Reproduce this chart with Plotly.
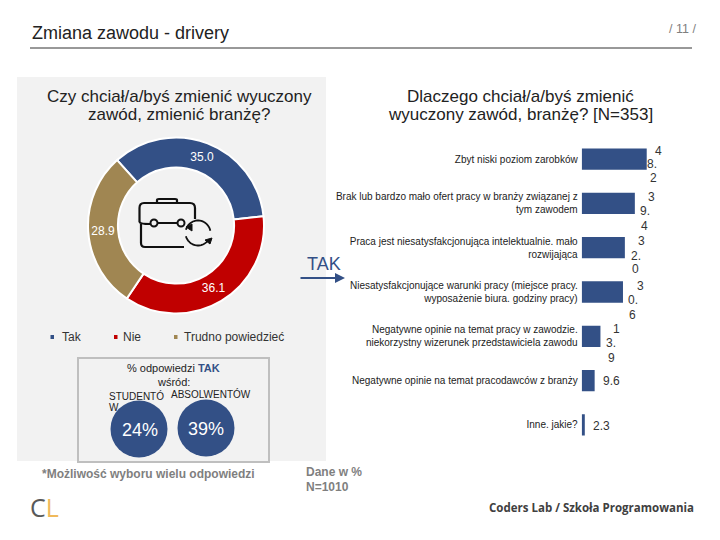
import plotly.graph_objects as go
import math

# ---- data ----
donut_labels = ["Tak", "Nie", "Trudno powiedzieć"]
donut_values = [35.0, 36.1, 28.9]
bar_categories = [
    "Zbyt niski poziom zarobków",
    "Brak lub bardzo mało ofert pracy w branży związanej z<br>tym zawodem",
    "Praca jest niesatysfakcjonująca intelektualnie. mało<br>rozwijająca",
    "Niesatysfakcjonujące warunki pracy (miejsce pracy.<br>wyposażenie biura. godziny pracy)",
    "Negatywne opinie na temat pracy w zawodzie.<br>niekorzystny wizerunek przedstawiciela zawodu",
    "Negatywne opinie na temat pracodawców z branży",
    "Inne. jakie?",
]
bar_values = [48.2, 39.4, 32.0, 30.6, 13.9, 9.6, 2.3]
bar_value_lines = [["4", "8.", "2"], ["3", "9.", "4"], ["3", "2.", "0"], ["3", "0.", "6"],
                   ["1", "3.", "9"], ["9.6"], ["2.3"]]
student_share = "24%"
graduate_share = "39%"

# ---- style ----
BLUE = "#335086"
RED = "#C00000"
TAN = "#A08652"
GREY_BG = "#F2F2F2"
ARIAL = "Liberation Sans, Arial, sans-serif"
W, H = 720, 540
X0, PX_PER_UNIT = 581.7, 1.349
Y_TOP, Y_BOT = 137.0, 447.0
label_dx = [[12, 5, 7], [17, 10, 10], [17, 11, 11], [18, 10, 10], [16.5, 10.5, 11.5], [17], [17]]
label_dy = [[-8, 5, 19], [-6, 8, 23], [-7, 8, 21], [-6, 8, 23], [-7, 7, 22], [0], [1]]

fig = go.Figure()
fig.add_trace(go.Pie(
    labels=donut_labels, values=donut_values, sort=False, direction="clockwise", rotation=-42,
    hole=0.66, domain=dict(x=[88 / W, 264 / W], y=[1 - 313.5 / H, 1 - 137.5 / H]),
    marker=dict(colors=[BLUE, RED, TAN], line=dict(color="white", width=2)),
    texttemplate="%{value:.1f}", textinfo="value", textposition="inside",
    insidetextorientation="horizontal", textfont=dict(color="white", size=12, family=ARIAL),
    showlegend=False,
))
fig.add_trace(go.Bar(
    x=bar_values, y=list(range(len(bar_values))), orientation="h", width=0.48,
    marker=dict(color=BLUE, line=dict(width=0)), xaxis="x2", yaxis="y2", showlegend=False,
))

ann = []
def T(x, y, text, size=11, color="#222222", anchor="center", family=ARIAL):
    ann.append(dict(x=x, y=y, xref="x", yref="y", text=text, showarrow=False, xanchor=anchor,
                    yanchor="middle", font=dict(size=size, color=color, family=family)))

for i, (v, lines) in enumerate(zip(bar_values, bar_value_lines)):
    for j, line in enumerate(lines):
        ann.append(dict(x=v, y=i, xref="x2", yref="y2", text=line, showarrow=False,
                        xshift=label_dx[i][j], yshift=-label_dy[i][j],
                        font=dict(size=12, color="#333333", family=ARIAL)))

T(30, 33, "Zmiana zawodu - drivery", 18, "#222222", "left")
T(698, 29, "/ 11 /", 12.5, "#7F7F7F", "right")
T(179, 96, "Czy chciał/a/byś zmienić wyuczony", 17)
T(179, 114, "zawód, zmienić branżę?", 17)
T(520, 96, "Dlaczego chciał/a/byś zmienić", 17)
T(520, 114, "wyuczony zawód, branżę? [N=353]", 17)
T(324, 264, "TAK", 18, BLUE)
T(60, 337, "Tak", 12, "#333333", "left")
T(121, 337, "Nie", 12, "#333333", "left")
T(182, 337, "Trudno powiedzieć", 12, "#333333", "left")
T(173, 368, f"% odpowiedzi <b style='color:{BLUE}'>TAK</b>", 11)
T(173, 382, "wśród:", 11)
T(107, 396, "STUDENTÓ", 10, "#222222", "left")
T(107, 407, "W", 10, "#222222", "left")
T(211, 394, "ABSOLWENTÓW", 10)
T(140, 430, student_share, 18, "white")
T(206, 429, graduate_share, 18, "white")
T(40, 474, "<b>*Możliwość wyboru wielu odpowiedzi</b>", 12, "#7F7F7F", "left")
T(304, 472, "<b>Dane w %</b>", 12, "#7F7F7F", "left")
T(304, 487, "<b>N=1010</b>", 12, "#7F7F7F", "left")
T(28, 507, "C<span style='color:#F0B95A'>L</span>", 25, "#595959", "left", "Open Sans")
T(487, 507, "<b>Coders Lab / Szkoła Programowania</b>", 11.5, "#404040", "left", "Open Sans")
ann.append(dict(x=345, y=278, ax=299, ay=278, xref="x", yref="y", axref="x", ayref="y", text="",
                showarrow=True, arrowhead=2, arrowsize=1, arrowwidth=2, arrowcolor=BLUE))

def rect(x0, y0, x1, y1, fill=None, line=None, lw=0, layer="below"):
    return dict(type="rect", xref="x", yref="y", x0=x0, y0=y0, x1=x1, y1=y1, layer=layer,
                fillcolor=fill or "rgba(0,0,0,0)", line=dict(color=line or "rgba(0,0,0,0)", width=lw))
def circ(cx, cy, r, **k):
    return dict(type="circle", xref="x", yref="y", x0=cx - r, y0=cy - r, x1=cx + r, y1=cy + r, **k)
def path(d, lw=2.2, color="#111111", fill="rgba(0,0,0,0)"):
    return dict(type="path", xref="x", yref="y", path=d, layer="above", fillcolor=fill,
                line=dict(color=color, width=lw))
def arc(cx, cy, r, a0, a1, n=24):
    pts = []
    for k in range(n + 1):
        a = math.radians(a0 + (a1 - a0) * k / n)
        pts.append(f"{'M' if k == 0 else 'L'}{cx + r * math.cos(a):.1f},{cy + r * math.sin(a):.1f}")
    return " ".join(pts)

shapes = [
    rect(17, 77, 326, 461, GREY_BG),
    rect(78, 358, 269, 462, None, "#BFBFBF", 2),
    dict(type="line", xref="x", yref="y", x0=30, x1=692, y0=48, y1=48, line=dict(color="#333333", width=1)),
    circ(139, 429, 28.5, fillcolor=BLUE, line=dict(width=0), layer="above"),
    circ(206, 428, 28.5, fillcolor=BLUE, line=dict(width=0), layer="above"),
    rect(50.5, 335, 54, 339, BLUE, layer="above"),
    rect(114, 335, 117.5, 339, RED, layer="above"),
    rect(174, 335, 177.5, 339, TAN, layer="above"),
    # briefcase icon
    path("M184,247 L145,247 Q141,247 141,243 L141,224"),
    path("M139.5,222 L139.5,208 Q139.5,203 144,203 L190,203 Q195,203 195,208 L195,219"),
    path("M139.5,222 Q140,224 150,224 M158,223 L178,223"),
    path("M157,203 L157,200 Q157,199 159,199 L175,199 Q177,199 177,200 L177,203"),
    circ(154, 223, 3.5, layer="above", fillcolor=GREY_BG, line=dict(color="#111111", width=2)),
    circ(181, 223, 3.5, layer="above", fillcolor=GREY_BG, line=dict(color="#111111", width=2)),
    # refresh arrows
    path(arc(198, 233, 12.5, 195, 350), 1.8),
    path(arc(198, 233, 12.5, 165, 30), 1.8),
    path("M186,227 L192,224 L192,231 Z", 1, "#111111", "#111111"),
    path("M212,238 L205,240 L210,244 Z", 1, "#111111", "#111111"),
]

fig.update_layout(
    width=W, height=H, autosize=False, margin=dict(l=0, r=0, t=0, b=0),
    paper_bgcolor="white", plot_bgcolor="rgba(0,0,0,0)",
    xaxis=dict(domain=[0, 1], range=[0, W], visible=False, fixedrange=True),
    yaxis=dict(domain=[0, 1], range=[H, 0], visible=False, fixedrange=True),
    xaxis2=dict(domain=[X0 / W, 1], range=[0, (W - X0) / PX_PER_UNIT], visible=False, anchor="y2"),
    yaxis2=dict(domain=[1 - Y_BOT / H, 1 - Y_TOP / H], range=[6.5, -0.5], anchor="x2",
                tickmode="array", tickvals=list(range(len(bar_categories))), ticktext=bar_categories,
                showgrid=False, zeroline=False, showline=False, ticks="", ticklabelstandoff=3,
                tickfont=dict(size=10, color="#222222", family=ARIAL)),
    annotations=ann, shapes=shapes,
)
fig.write_html("out.html", config=dict(displayModeBar=False),
               post_script="document.body.style.margin='0';document.documentElement.style.overflow='hidden';")
